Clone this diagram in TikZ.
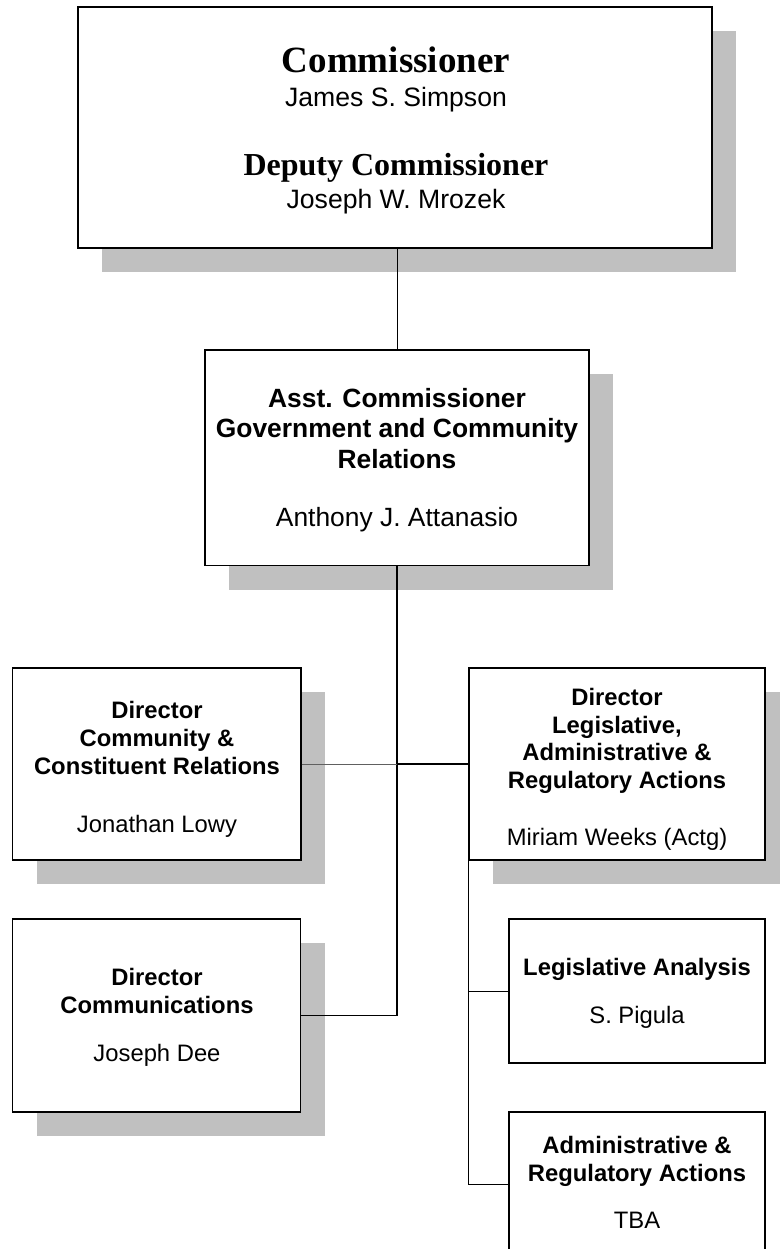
\documentclass[tikz,border=0pt]{standalone}
\usepackage{fontspec}
\setmainfont{Liberation Sans}
\newfontfamily\orgserif{Liberation Serif}
\definecolor{shadowgray}{HTML}{C0C0C0}
\definecolor{linegray}{HTML}{606060}
\begin{document}
\begin{tikzpicture}[x=1pt,y=-1pt,
  box/.style={draw=black, line width=1.3pt, fill=white, inner sep=0pt},
  sh/.style={fill=shadowgray, draw=none},
  txt/.style={anchor=base, inner sep=0pt},
  bigserif/.style={font=\orgserif\bfseries\fontsize{37}{44}\selectfont},
  midserif/.style={font=\orgserif\bfseries\fontsize{32}{38}\selectfont},
  topname/.style={font=\fontsize{26.6}{32}\selectfont},
  asstb/.style={font=\bfseries\fontsize{26.4}{32}\selectfont},
  asstn/.style={font=\fontsize{26.4}{32}\selectfont},
  dirb/.style={font=\bfseries\fontsize{23.8}{28}\selectfont},
  dirn/.style={font=\fontsize{23.8}{28}\selectfont},
  thinline/.style={draw=black, line width=0.7pt},
  grayline/.style={draw=linegray, line width=0.8pt},
  mainline/.style={draw=black, line width=1.4pt}]
\useasboundingbox (0,0) rectangle (779,1249);

% shadows
\fill[sh] (102,31) rectangle (736,272);
\fill[sh] (229,374) rectangle (613,589.5);
\fill[sh] (36.5,692) rectangle (325,884);
\fill[sh] (493,692) rectangle (789,884);
\fill[sh] (36.5,943) rectangle (324.5,1136);

% boxes
\node[box, minimum width=634pt, minimum height=241pt] (top) at (395,127.5) {};
\node[box, minimum width=384pt, minimum height=215.5pt] (asst) at (397,457.75) {};
\node[box, minimum width=288.5pt, minimum height=192pt] (leftdir) at (156.75,764) {};
\node[box, minimum width=296pt, minimum height=192pt] (rightdir) at (617,764) {};
\node[box, minimum width=288pt, minimum height=193pt] (comm) at (156.5,1015.5) {};
\node[box, minimum width=256pt, minimum height=144pt] (leg) at (637,991) {};
\node[box, minimum width=256pt, minimum height=144pt] (admin) at (637,1184) {};

% connectors
\draw[thinline] (asst.north |- top.south) -- (asst.north);
\draw[mainline] (asst.south) -- (asst.south |- comm.east) -- (comm.east);
\coordinate (junction) at (asst.south |- leftdir.east);
\draw[grayline] (leftdir.east) -- (junction);
\draw[mainline] (junction) -- (rightdir.west);
\draw[thinline] (rightdir.south west) -- (rightdir.south west |- admin.west) -- (admin.west);
\draw[thinline] (rightdir.south west |- leg.west) -- (leg.west);

% texts: top box
\node[txt, bigserif] (t1) at (396,72.7) {Commissioner};
\node[txt, topname] (t2) at (396,106.7) {James S. Simpson};
\node[txt, midserif] (t3) at (396,176) {Deputy Commissioner};
\node[txt, topname] (t4) at (396,209) {Joseph W. Mrozek};

% asst box
\node[txt, asstb] (a1) at (397,407) {Asst. Commissioner};
\node[txt, asstb] (a2) at (397,437.5) {Government and Community};
\node[txt, asstb] (a3) at (397,468) {Relations};
\node[txt, asstn] (a4) at (397,526) {Anthony J. Attanasio};

% left director
\node[txt, dirb] (l1) at (157,718) {Director};
\node[txt, dirb] (l2) at (157,746) {Community \&};
\node[txt, dirb] (l3) at (157,774) {Constituent Relations};
\node[txt, dirn] (l4) at (157,832) {Jonathan Lowy};

% right director
\node[txt, dirb] (r1) at (617,705) {Director};
\node[txt, dirb] (r2) at (617,733) {Legislative,};
\node[txt, dirb] (r3) at (617,760.5) {Administrative \&};
\node[txt, dirb] (r4) at (617,788) {Regulatory Actions};
\node[txt, dirn] (r5) at (617,845) {Miriam Weeks (Actg)};

% communications
\node[txt, dirb] (c1) at (157,985) {Director};
\node[txt, dirb] (c2) at (157,1013) {Communications};
\node[txt, dirn] (c3) at (157,1061) {Joseph Dee};

% legislative analysis
\node[txt, dirb] (g1) at (637,975) {Legislative Analysis};
\node[txt, dirn] (g2) at (637,1023) {S. Pigula};

% administrative
\node[txt, dirb] (d1) at (637,1153) {Administrative \&};
\node[txt, dirb] (d2) at (637,1181) {Regulatory Actions};
\node[txt, dirn] (d3) at (637,1228) {TBA};
\end{tikzpicture}
\end{document}
